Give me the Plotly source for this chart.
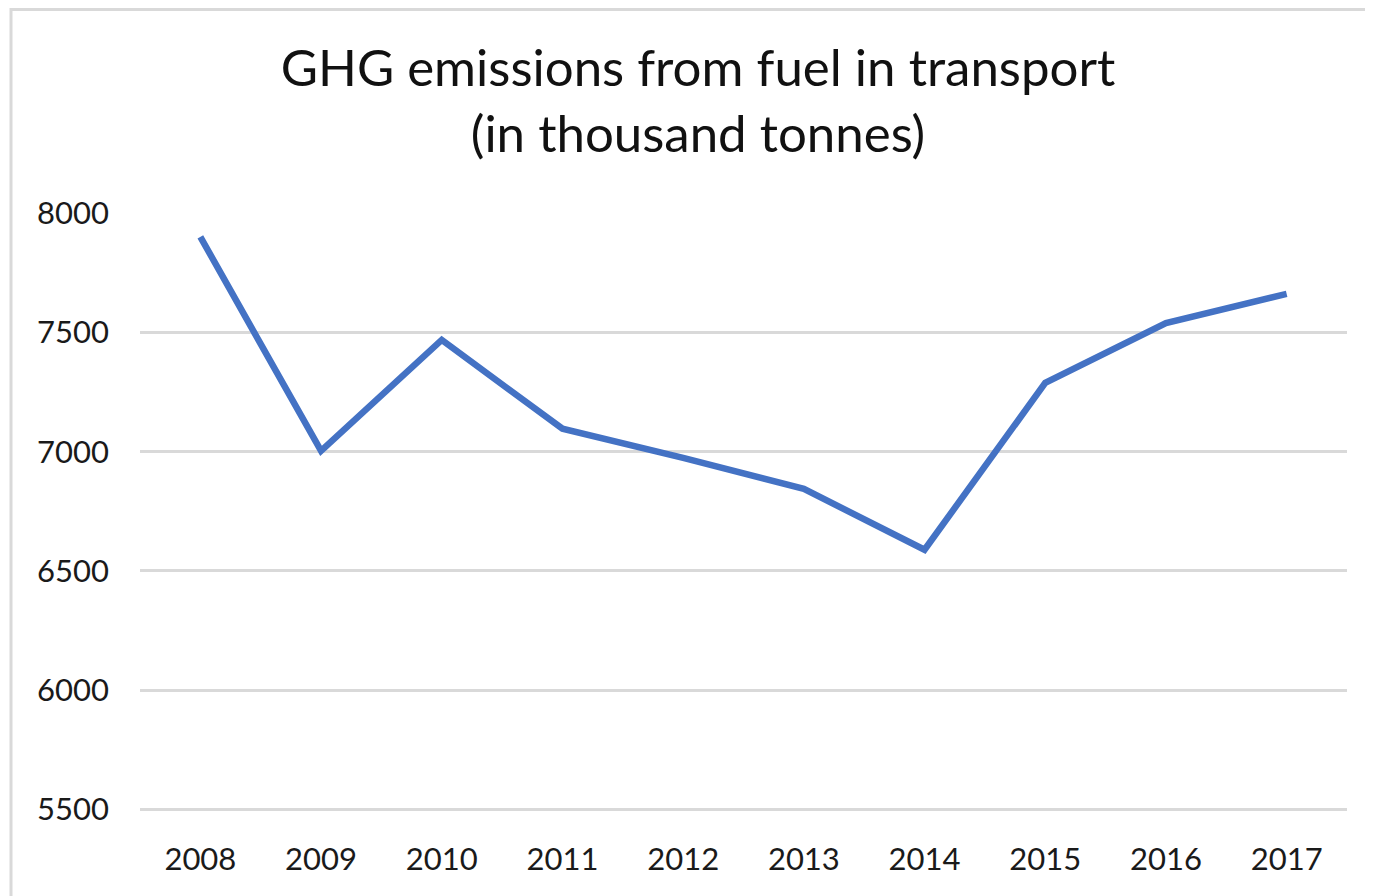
import plotly.graph_objects as go

years = ["2008", "2009", "2010", "2011", "2012", "2013", "2014", "2015", "2016", "2017"]
emissions = [7900, 7003, 7468, 7096, 6974, 6844, 6589, 7288, 7539, 7661]
y_ticks = [5500, 6000, 6500, 7000, 7500, 8000]
title_text = "GHG emissions from fuel in transport<br>(in thousand tonnes)"

FONT = "Lato"
# page body has an 8px margin, so the figure is sized/positioned to compensate
OFF = 8
W, H = 1373 - OFF, 896 - OFF
L = 140 - OFF
R = 1373 - 1347
T = 213 - OFF
B = H - (812 - OFF)
y_lo = 5490

fig = go.Figure()
fig.add_trace(go.Scatter(
    x=years, y=emissions, mode="lines",
    line=dict(color="#4472C4", width=6.5, shape="linear"),
    hoverinfo="x+y",
))

pw, ph = W - L - R, H - T - B
fig.update_layout(
    width=W, height=H,
    margin=dict(l=L, r=R, t=T, b=B, autoexpand=False),
    paper_bgcolor="white", plot_bgcolor="white",
    showlegend=False,
    font=dict(family=FONT, color="#1a1a1a", size=31),
    title=dict(
        text=title_text,
        x=(698 - OFF) / W, xref="container", xanchor="center",
        y=1 - 78 / H, yref="container", yanchor="top",
        font=dict(family=FONT, size=51, color="#111111"),
    ),
    xaxis=dict(
        type="category", range=[-0.5, len(years) - 0.5],
        showgrid=False, zeroline=False, showline=False,
        ticks="", ticklabelstandoff=26,
        tickfont=dict(size=31, family=FONT, color="#1a1a1a"),
    ),
    yaxis=dict(
        range=[y_lo, 8000], tickvals=y_ticks,
        showgrid=True, gridcolor="#d9d9d9", gridwidth=2.5,
        zeroline=False, showline=False, ticks="",
        ticklabelstandoff=30,
        tickfont=dict(size=31, family=FONT, color="#1a1a1a"),
    ),
    shapes=[
        dict(type="rect", xref="paper", yref="paper",
             x0=(11 - OFF - L) / pw, x1=(W + 20 - L) / pw,
             y0=-(B + 20) / ph, y1=1 + (T - 1.5) / ph,
             line=dict(color="#d9d9d9", width=3), layer="below"),
    ],
)

fig.write_html("out.html")
